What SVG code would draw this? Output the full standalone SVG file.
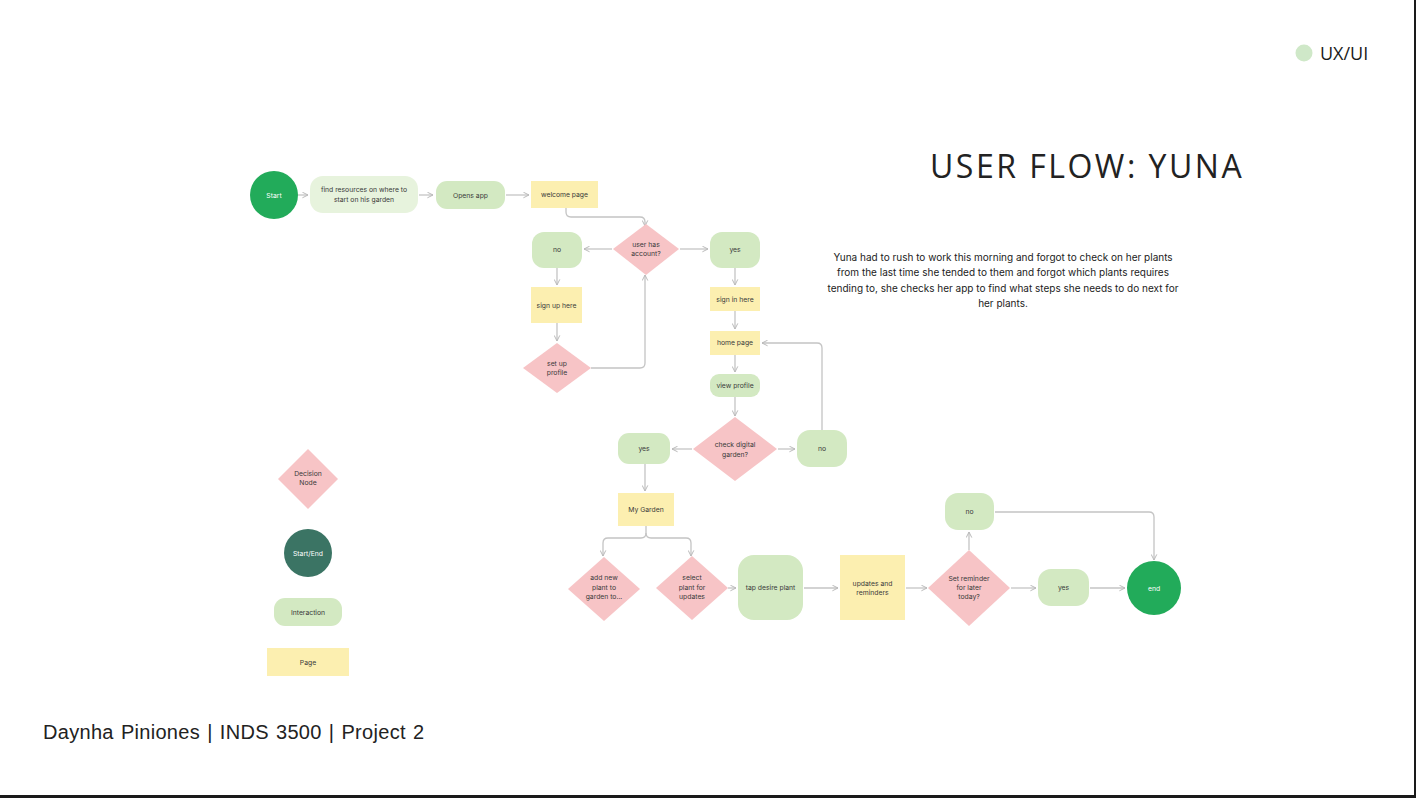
<svg xmlns="http://www.w3.org/2000/svg" width="1416" height="798" viewBox="0 0 1416 798">
<defs>
<marker id="ah" viewBox="0 0 10 10" refX="9" refY="5" markerWidth="7" markerHeight="7" orient="auto" markerUnits="userSpaceOnUse">
<path d="M1,1 L9,5 L1,9" fill="none" stroke="#b8b8b8" stroke-width="1.4"/>
</marker>
<style>
.c{fill:none;stroke:#c4c4c4;stroke-width:1.3;marker-end:url(#ah)}
.cn{fill:none;stroke:#c4c4c4;stroke-width:1.3}
.t{font-family:Inter,"Noto Sans",sans-serif;font-size:6.8px;fill:#3a3a3a;text-anchor:middle}
.tw{font-family:Inter,"Noto Sans",sans-serif;font-size:6.8px;fill:#ffffff;text-anchor:middle}
.pg{fill:#fcefb0}
.ia{fill:#d3e9c2}
.ial{fill:#e7f3dd}
.dc{fill:#f7c4c6}
.se{fill:#22ab5a}
</style>
</defs>
<rect width="1416" height="798" fill="#ffffff"/>
<rect x="0" y="795" width="1416" height="3" fill="#1a1a1a"/>
<rect x="1414" y="0" width="2" height="798" fill="#1a1a1a"/>

<g id="header">
<circle cx="1304" cy="53" r="8.5" fill="#cfe8c8"/>
<text x="1320" y="60" font-family="'Open Sans','Noto Sans',sans-serif" font-size="18" fill="#1a1a1a">UX/UI</text>
<text x="930" y="178" font-family="'Open Sans','Noto Sans',sans-serif" font-size="32" fill="#222" letter-spacing="2.5">USER FLOW: YUNA</text>
<text x="43" y="739" font-family="'Liberation Sans','Noto Sans',sans-serif" font-size="20" fill="#222" letter-spacing="0.3" word-spacing="1.3">Daynha Piniones | INDS 3500 | Project 2</text>
</g>

<g id="description" font-family="Inter,'Noto Sans',sans-serif" font-size="10" fill="#222" text-anchor="middle">
<text x="1003" y="261">Yuna had to rush to work this morning and forgot to check on her plants</text>
<text x="1003" y="276">from the last time she tended to them and forgot which plants requires</text>
<text x="1003" y="292">tending to, she checks her app to find what steps she needs to do next for</text>
<text x="1003" y="307">her plants.</text>
</g>

<g id="connectors">
<path class="c" d="M298,195 H308"/>
<path class="c" d="M419,195 H433"/>
<path class="c" d="M506,195 H529"/>
<path class="c" d="M566,208 V212 Q566,217 571,217 H640 Q645,217 645,222 V226"/>
<path class="c" d="M612,249 H584"/>
<path class="c" d="M680,249 H708"/>
<path class="c" d="M557,268 V285"/>
<path class="c" d="M557,323 V341"/>
<path class="c" d="M591,368 H640 Q645,368 645,363 V275"/>
<path class="c" d="M735,268 V285"/>
<path class="c" d="M735,311 V329"/>
<path class="c" d="M735,355 V372"/>
<path class="c" d="M735,397 V416"/>
<path class="c" d="M778,449 H795"/>
<path class="c" d="M822,430 V348 Q822,343 817,343 H762"/>
<path class="c" d="M692,449 H672"/>
<path class="c" d="M645,464 V491"/>
<path class="cn" d="M646,526 V533 Q646,538 641,538 H608 Q603,538 603,543"/>
<path class="c" d="M603,543 V556"/>
<path class="cn" d="M646,533 Q646,538 651,538 H686 Q691,538 691,543"/>
<path class="c" d="M691,543 V556"/>
<path class="c" d="M728,588 H736"/>
<path class="c" d="M804,588 H838"/>
<path class="c" d="M906,588 H927"/>
<path class="c" d="M969,550 V532"/>
<path class="c" d="M995,512 H1149 Q1154,512 1154,517 V560"/>
<path class="c" d="M1011,588 H1036"/>
<path class="c" d="M1090,588 H1125"/>
</g>

<g id="n-start"><circle cx="274" cy="195" r="24" class="se"/><text class="tw" x="274" y="197.5">Start</text></g>
<g id="n-find"><rect x="310" y="176" width="108" height="37" rx="13" class="ial"/><text class="t" x="364" y="192">find resources on where to</text><text class="t" x="364" y="202">start on his garden</text></g>
<g id="n-opens"><rect x="436" y="181" width="69" height="28" rx="11" class="ia"/><text class="t" x="470.5" y="197.5">Opens app</text></g>
<g id="n-welcome"><rect x="531" y="181" width="67" height="27" class="pg"/><text class="t" x="564.5" y="197">welcome page</text></g>
<g id="n-hasacct"><polygon points="646,224 679,249 646,275 613,249" class="dc"/><text class="t" x="646" y="247">user has</text><text class="t" x="646" y="256">account?</text></g>
<g id="n-no1"><rect x="532" y="232" width="50" height="36" rx="12" class="ia"/><text class="t" x="557" y="252">no</text></g>
<g id="n-yes1"><rect x="710" y="232" width="50" height="36" rx="12" class="ia"/><text class="t" x="735" y="252">yes</text></g>
<g id="n-signup"><rect x="531" y="287" width="51" height="36" class="pg"/><text class="t" x="556.5" y="307.5">sign up here</text></g>
<g id="n-setup"><polygon points="557,343 591,368 557,393 523,368" class="dc"/><text class="t" x="557" y="366">set up</text><text class="t" x="557" y="375">profile</text></g>
<g id="n-signin"><rect x="710" y="287" width="50" height="24" class="pg"/><text class="t" x="735" y="301.5">sign in here</text></g>
<g id="n-home"><rect x="710" y="331" width="50" height="24" class="pg"/><text class="t" x="735" y="345">home page</text></g>
<g id="n-viewprofile"><rect x="710" y="374" width="50" height="23" rx="9" class="ia"/><text class="t" x="735" y="388">view profile</text></g>
<g id="n-checkgarden"><polygon points="735,417 777,449 735,481 693,449" class="dc"/><text class="t" x="735" y="447">check digital</text><text class="t" x="735" y="457">garden?</text></g>
<g id="n-no2"><rect x="797" y="430" width="50" height="37" rx="13" class="ia"/><text class="t" x="822" y="451">no</text></g>
<g id="n-yes2"><rect x="618" y="433" width="52" height="31" rx="11" class="ia"/><text class="t" x="644" y="451">yes</text></g>
<g id="n-mygarden"><rect x="618" y="493" width="56" height="33" class="pg"/><text class="t" x="646" y="512">My Garden</text></g>
<g id="n-addnew"><polygon points="604,557 640,589 604,621 568,589" class="dc"/><text class="t" x="604" y="580">add new</text><text class="t" x="604" y="590">plant to</text><text class="t" x="604" y="599">garden to...</text></g>
<g id="n-select"><polygon points="692,556 728,588 692,620 656,588" class="dc"/><text class="t" x="692" y="580">select</text><text class="t" x="692" y="590">plant for</text><text class="t" x="692" y="599">updates</text></g>
<g id="n-tap"><rect x="738" y="555" width="65" height="65" rx="16" class="ia"/><text class="t" x="770.5" y="590">tap desire plant</text></g>
<g id="n-updates"><rect x="840" y="555" width="65" height="65" class="pg"/><text class="t" x="872.5" y="586">updates and</text><text class="t" x="872.5" y="595">reminders</text></g>
<g id="n-setreminder"><polygon points="969,550 1010,588 969,626 928,588" class="dc"/><text class="t" x="969" y="581">Set reminder</text><text class="t" x="969" y="590">for later</text><text class="t" x="969" y="599">today?</text></g>
<g id="n-no3"><rect x="945" y="493" width="49" height="37" rx="13" class="ia"/><text class="t" x="969.5" y="514">no</text></g>
<g id="n-yes3"><rect x="1038" y="569" width="51" height="37" rx="13" class="ia"/><text class="t" x="1063.5" y="590">yes</text></g>
<g id="n-end"><circle cx="1154" cy="588" r="27" class="se"/><text class="tw" x="1154" y="590.5">end</text></g>

<g id="legend">
<g id="l-decision"><polygon points="308,449 338,479 308,509 278,479" class="dc"/><text class="t" x="308" y="476">Decision</text><text class="t" x="308" y="485">Node</text></g>
<g id="l-startend"><circle cx="308" cy="553" r="24" fill="#3b7464"/><text class="tw" x="308" y="555.5">Start/End</text></g>
<g id="l-interaction"><rect x="274" y="598" width="68" height="28" rx="11" class="ia"/><text class="t" x="308" y="614.5">Interaction</text></g>
<g id="l-page"><rect x="267" y="648" width="82" height="28" class="pg"/><text class="t" x="308" y="664.5">Page</text></g>
</g>
</svg>
